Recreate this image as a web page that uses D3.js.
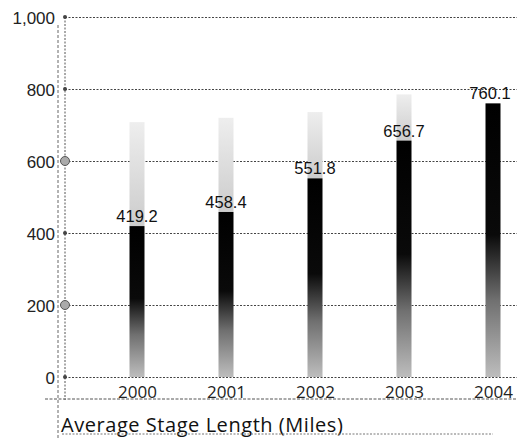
<!DOCTYPE html>
<html>
<head>
<meta charset="utf-8">
<script src="https://cdn.jsdelivr.net/npm/d3@7"></script>
<style>
  html, body { margin: 0; padding: 0; background: #fff; }
  svg { display: block; }
</style>
</head>
<body>
<svg id="chart" width="517" height="439"></svg>
<script>
// Average stage length by year (miles)
const years = ["2000", "2001", "2002", "2003", "2004"];
const stageLength = [419.2, 458.4, 551.8, 656.7, 760.1];
// faint background columns behind each bar
const shadowLength = [708, 720, 736, 785, 0];
const yTicks = [0, 200, 400, 600, 800, 1000];
const highlightedTicks = [200, 600];
const titleText = "Average Stage Length (Miles)";

const svg = d3.select("#chart");
const plotLeft = 65, plotRight = 517, plotTop = 17, plotBottom = 377;

const x = d3.scalePoint().domain(years).range([137, 493]);
const y = d3.scaleLinear().domain([0, 1000]).range([plotBottom, plotTop]);
const barW = 15;

const defs = svg.append("defs");
const grad = defs.append("linearGradient")
  .attr("id", "barFade").attr("x1", 0).attr("y1", 0).attr("x2", 0).attr("y2", 1);
grad.append("stop").attr("offset", "0%").attr("stop-color", "#000");
grad.append("stop").attr("offset", "48%").attr("stop-color", "#0a0a0a");
grad.append("stop").attr("offset", "72%").attr("stop-color", "#707070");
grad.append("stop").attr("offset", "100%").attr("stop-color", "#bdbdbd");

const ghost = defs.append("linearGradient")
  .attr("id", "ghostFade").attr("x1", 0).attr("y1", 0).attr("x2", 0).attr("y2", 1);
ghost.append("stop").attr("offset", "0%").attr("stop-color", "#eeeeee");
ghost.append("stop").attr("offset", "100%").attr("stop-color", "#cccccc");

// gridlines
const yAxis = d3.axisLeft(y).tickValues(yTicks).tickSize(-(plotRight - plotLeft))
  .tickFormat(d3.format(","));
const gy = svg.append("g").attr("transform", `translate(${plotLeft},0)`).call(yAxis);
gy.select(".domain").remove();
gy.selectAll(".tick line")
  .attr("stroke", "#444").attr("stroke-width", 1).attr("stroke-dasharray", "2,1.5");
gy.selectAll(".tick text")
  .attr("x", -10).attr("dy", "0.36em")
  .attr("font-family", "Liberation Sans, Arial, sans-serif")
  .attr("font-size", 17).attr("fill", "#222");

// background columns
svg.append("g").selectAll("rect")
  .data(years.map((d, i) => ({ year: d, v: shadowLength[i], top: stageLength[i] })))
  .join("rect")
  .attr("x", d => x(d.year) - barW / 2)
  .attr("width", barW)
  .attr("y", d => y(Math.max(d.v, d.top)))
  .attr("height", d => Math.max(0, y(d.top) - y(Math.max(d.v, d.top))))
  .attr("fill", "url(#ghostFade)");

// bars
svg.append("g").selectAll("rect")
  .data(years.map((d, i) => ({ year: d, v: stageLength[i] })))
  .join("rect")
  .attr("x", d => x(d.year) - barW / 2)
  .attr("width", barW)
  .attr("y", d => y(d.v))
  .attr("height", d => y(0) - y(d.v))
  .attr("fill", "url(#barFade)");

// value labels
svg.append("g").selectAll("text")
  .data(years.map((d, i) => ({ year: d, v: stageLength[i] })))
  .join("text")
  .attr("x", d => Math.min(x(d.year), 490))
  .attr("y", d => y(d.v) - 4)
  .attr("text-anchor", "middle")
  .attr("font-family", "Liberation Sans, Arial, sans-serif")
  .attr("font-size", 16.5).attr("fill", "#111")
  .text(d => d.v.toFixed(1));

// axis lines
svg.append("line")
  .attr("x1", plotLeft).attr("x2", plotLeft).attr("y1", plotTop).attr("y2", 400)
  .attr("stroke", "#555").attr("stroke-dasharray", "2,1.5");
svg.append("line")
  .attr("x1", 58).attr("x2", 58).attr("y1", 25).attr("y2", 439)
  .attr("stroke", "#666").attr("stroke-dasharray", "3,2");

// tick markers
svg.append("g").selectAll("circle")
  .data(yTicks)
  .join("circle")
  .attr("cx", plotLeft).attr("cy", d => y(d))
  .attr("r", d => highlightedTicks.includes(d) ? 4.5 : 2)
  .attr("fill", d => highlightedTicks.includes(d) ? "#aaa" : "#444")
  .attr("stroke", d => highlightedTicks.includes(d) ? "#555" : "none");

// x labels
const xAxis = d3.axisBottom(x).tickSize(0);
const gx = svg.append("g").attr("transform", `translate(0,398)`).call(xAxis);
gx.select(".domain").remove();
gx.selectAll(".tick text")
  .attr("font-family", "Open Sans, DejaVu Sans, sans-serif")
  .attr("font-size", 17).attr("fill", "#222").attr("dy", 0).attr("y", 0);

svg.append("line")
  .attr("x1", 45).attr("x2", 517).attr("y1", 399).attr("y2", 399)
  .attr("stroke", "#555").attr("stroke-dasharray", "3,1.5");

// title
svg.append("text")
  .attr("x", 61).attr("y", 432)
  .attr("font-family", "Open Sans, DejaVu Sans, sans-serif")
  .attr("font-size", 20).attr("letter-spacing", 0.55).attr("fill", "#111")
  .text(titleText);
svg.append("line")
  .attr("x1", 62).attr("x2", 493).attr("y1", 434).attr("y2", 434)
  .attr("stroke", "#777").attr("stroke-dasharray", "2,1.5");
</script>
</body>
</html>
